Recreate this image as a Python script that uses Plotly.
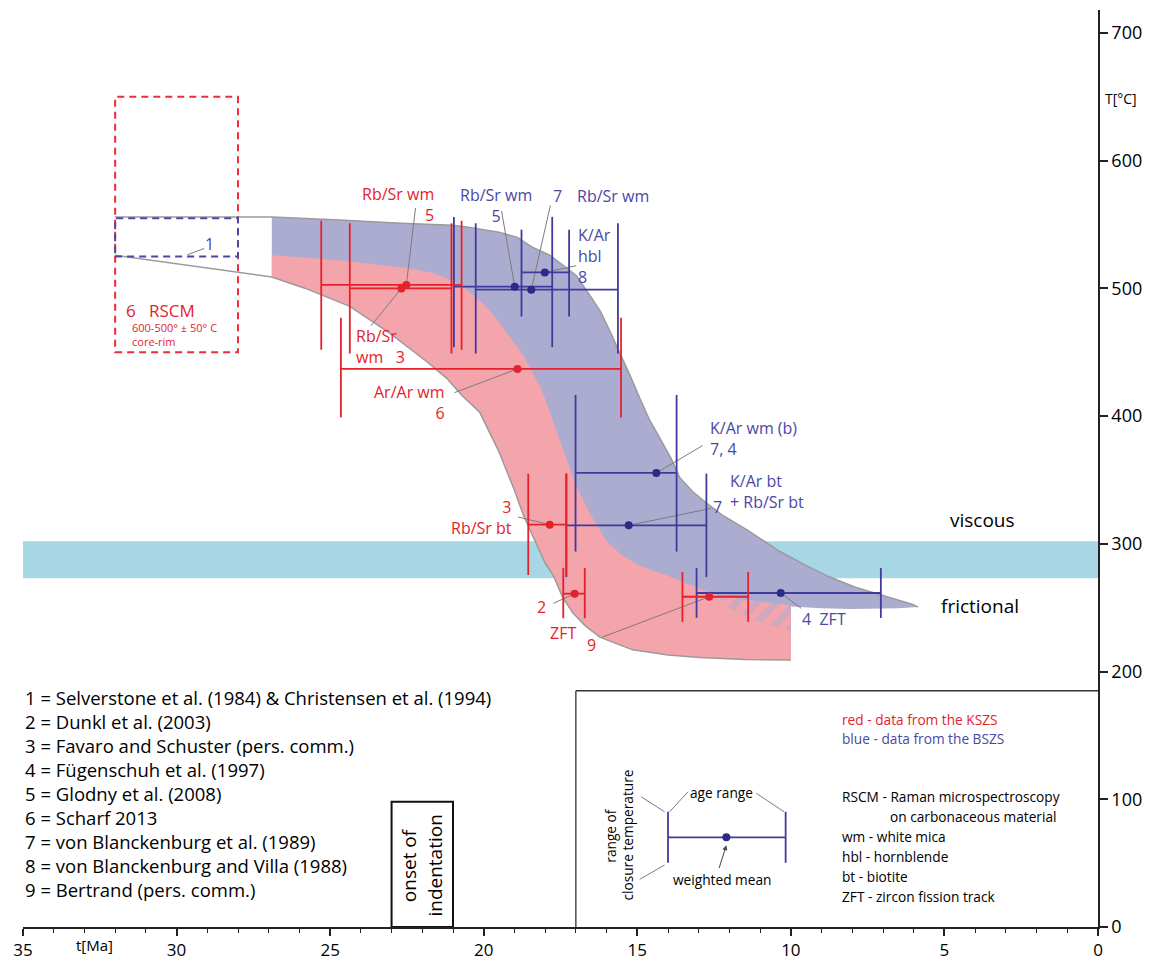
import plotly.graph_objects as go

# ---------------- cooling-path envelopes (age in Ma, temperature in °C) ----------------
blue_top_age = [32.0, 28.0, 26.9, 24.7, 22.7, 21.0, 20.5, 19.5, 18.9, 18.4,
                17.85, 17.3, 16.98, 16.5, 16.2, 15.9, 15.57, 15.2, 14.9, 14.6,
                14.27, 13.9, 13.62, 13.2, 12.75, 12.2, 11.43, 10.8, 10.36, 9.5,
                8.73, 7.9, 7.1, 6.5, 6.03, 5.86]
blue_top_T = [556, 556, 556, 553.5, 551, 549.5, 548, 544, 540, 532,
              526, 516, 510, 493, 482, 467, 450, 430, 413, 397,
              383, 367, 352, 341, 332, 322, 311, 301, 294, 283,
              274, 266, 260, 256, 252.5, 250.5]
blue_bot_age = [5.86, 6.5, 8.0, 9.0, 10.0]
blue_bot_T = [250.5, 249.5, 249.0, 249.5, 251]

red_top_age = [26.9, 24.7, 22.5, 21.65, 21.0, 20.56, 20.0, 19.48, 19.0, 18.7,
               18.1, 17.52, 16.98, 16.5, 16.0, 15.5, 15.0, 14.5, 14.0, 13.3,
               12.4, 12.0, 11.0, 10.0]
red_top_T = [526, 522, 516, 512, 506, 499, 488, 473, 457, 447,
             420, 381, 345, 322, 302, 291, 284, 279, 275, 268,
             259.5, 250, 239, 232]
red_bot_age = [32.0, 29.25, 26.9, 25.8, 24.36, 23.06, 21.87, 21.22, 20.7, 20.13,
               19.5, 19.0, 18.7, 18.4, 18.0, 17.75, 17.43, 17.1, 16.7, 16.22,
               15.6, 15.15, 14.0, 12.96, 11.5, 10.0]
red_bot_T = [526, 517, 509, 500, 486, 465, 443, 430, 416, 403,
             372, 342, 322, 306, 285, 276, 258, 246, 236, 227,
             221, 217, 213, 211, 209.5, 209]
hatch_age = [12.4, 11.5, 10.0, 10.0, 11.0, 12.0]
hatch_T = [259.5, 256, 252, 232, 239, 250]

# viscous / frictional transition band
bdt_age = [35, 0]
bdt_T = [273, 302]

# boxes
rscm_age = [32, 28]
rscm_T = [450, 650]
selv_age = [32, 28]
selv_T = [525, 555]
onset_age = [23.0, 21.0]
onset_T = 98
key_age = 17.0
key_T = 185

# ---------------- data crosses ----------------
red_age = [22.52, 22.68, 18.9, 17.85, 17.04, 12.66]
red_age_old = [25.29, 24.36, 24.65, 18.55, 17.41, 13.53]
red_age_young = [20.72, 21.05, 15.53, 17.31, 16.71, 11.39]
red_T = [502.7, 500.0, 437.0, 315.0, 261.0, 258.6]
red_T_low = [452, 449, 399, 275.6, 241.7, 239]
red_T_high = [553, 551, 477, 355, 281, 278]
red_lead_age = [22.22, 23.67, 20.95, 18.88, 17.73, 16.16]
red_lead_T = [563, 470.8, 418.4, 321.0, 253.4, 226.8]

blue_age = [18.99, 18.45, 18.01, 14.38, 15.28, 10.33]
blue_age_old = [20.97, 20.26, 18.77, 17.01, 17.31, 13.07]
blue_age_young = [17.77, 15.63, 17.22, 13.72, 12.75, 7.07]
blue_T = [501.4, 499.0, 512.5, 355.5, 314.5, 261.5]
blue_T_low = [454, 449, 478, 294, 274, 242]
blue_T_high = [556, 551, 546, 416.6, 355, 281]
blue_lead_age = [19.42, 17.83, 16.99, 12.87, 12.61, 9.66]
blue_lead_T = [560.8, 565, 517.8, 377, 327.7, 249.5]

# example cross in the key
ex_age = 12.1
ex_age_old = 14.0
ex_age_young = 10.17
ex_T = 70.2
ex_T_low = 50.3
ex_T_high = 90.2

references = [
    "1 = Selverstone et al. (1984) & Christensen et al. (1994)",
    "2 = Dunkl et al. (2003)",
    "3 = Favaro and Schuster (pers. comm.)",
    "4 = Fügenschuh et al. (1997)",
    "5 = Glodny et al. (2008)",
    "6 = Scharf 2013",
    "7 = von Blanckenburg et al. (1989)",
    "8 = von Blanckenburg and Villa (1988)",
    "9 = Bertrand (pers. comm.)",
]
abbreviations = [
    ("RSCM - Raman microspectroscopy", 0),
    ("on carbonaceous material", 1),
    ("wm - white mica", 0),
    ("hbl - hornblende", 0),
    ("bt - biotite", 0),
    ("ZFT - zircon fission track", 0),
]

# ---------------- styles ----------------
FONT = "Open Sans"
RED = "#e4222b"
BLUE = "#3f3b9d"
BLUE_PT = "#2c2987"
BLUE_TXT = "#4b47a4"
PINK = "#f4a4ab"
LAV = "#acabd0"
CYAN = "#a7d6e4"
EDGE = "#9b9b9b"
LEAD = "#7c7c7c"
NB = "\u00a0"

fig = go.Figure()

# cyan band
fig.add_trace(go.Scatter(x=[bdt_age[0], bdt_age[1], bdt_age[1], bdt_age[0]],
                         y=[bdt_T[0], bdt_T[0], bdt_T[1], bdt_T[1]],
                         fill="toself", fillcolor=CYAN, line=dict(width=0),
                         mode="lines", hoverinfo="skip"))

# blue envelope
bt_idx = [i for i, a in enumerate(blue_top_age) if a <= 26.9]
rb_idx = [i for i, a in enumerate(red_bot_age) if a <= 26.9]
bx = [blue_top_age[i] for i in bt_idx] + blue_bot_age[1:] + [red_bot_age[i] for i in reversed(rb_idx)]
by = [blue_top_T[i] for i in bt_idx] + blue_bot_T[1:] + [red_bot_T[i] for i in reversed(rb_idx)]
fig.add_trace(go.Scatter(x=bx, y=by, fill="toself", fillcolor=LAV, line=dict(width=0),
                         mode="lines", hoverinfo="skip"))

# red envelope
rx = red_top_age + [red_bot_age[i] for i in reversed(rb_idx)]
ry = red_top_T + [red_bot_T[i] for i in reversed(rb_idx)]
fig.add_trace(go.Scatter(x=rx, y=ry, fill="toself", fillcolor=PINK, line=dict(width=0),
                         mode="lines", hoverinfo="skip"))

# hatched overlap
fig.add_trace(go.Scatter(x=hatch_age, y=hatch_T, fill="toself", fillcolor=PINK,
                         fillpattern=dict(shape="/", bgcolor=PINK, fgcolor=LAV, size=14, solidity=0.5),
                         line=dict(width=0), mode="lines", hoverinfo="skip"))

# grey outlines
fig.add_trace(go.Scatter(x=blue_top_age, y=blue_top_T, mode="lines",
                         line=dict(color=EDGE, width=1.5), hoverinfo="skip"))
fig.add_trace(go.Scatter(x=red_bot_age, y=red_bot_T, mode="lines",
                         line=dict(color=EDGE, width=1.5), hoverinfo="skip"))


def cross(a_old, a_young, t, lo, hi):
    xs, ys = [], []
    for a0, a1, tm, l, h in zip(a_old, a_young, t, lo, hi):
        xs += [a0, a1, None, a0, a0, None, a1, a1, None]
        ys += [tm, tm, None, l, h, None, l, h, None]
    return xs, ys


def leaders(la, lt, a, t):
    xs, ys = [], []
    for x0, y0, x1, y1 in zip(la, lt, a, t):
        xs += [x0, x1, None]
        ys += [y0, y1, None]
    return xs, ys


# leader lines
lx, ly = leaders(blue_lead_age, blue_lead_T, blue_age, blue_T)
fig.add_trace(go.Scatter(x=lx, y=ly, mode="lines", line=dict(color=LEAD, width=1), hoverinfo="skip"))
lx, ly = leaders(red_lead_age, red_lead_T, red_age, red_T)
fig.add_trace(go.Scatter(x=lx, y=ly, mode="lines", line=dict(color=LEAD, width=1), hoverinfo="skip"))

# crosses
cx, cy = cross(blue_age_old, blue_age_young, blue_T, blue_T_low, blue_T_high)
fig.add_trace(go.Scatter(x=cx, y=cy, mode="lines", line=dict(color=BLUE, width=1.8), hoverinfo="skip"))
cx, cy = cross(red_age_old, red_age_young, red_T, red_T_low, red_T_high)
fig.add_trace(go.Scatter(x=cx, y=cy, mode="lines", line=dict(color=RED, width=1.8), hoverinfo="skip"))
fig.add_trace(go.Scatter(x=blue_age, y=blue_T, mode="markers",
                         marker=dict(color=BLUE_PT, size=8), hoverinfo="skip"))
fig.add_trace(go.Scatter(x=red_age, y=red_T, mode="markers",
                         marker=dict(color=RED, size=8), hoverinfo="skip"))

# example cross in key
cx, cy = cross([ex_age_old], [ex_age_young], [ex_T], [ex_T_low], [ex_T_high])
fig.add_trace(go.Scatter(x=cx, y=cy, mode="lines", line=dict(color=BLUE, width=1.8), hoverinfo="skip"))
fig.add_trace(go.Scatter(x=[ex_age], y=[ex_T], mode="markers",
                         marker=dict(color=BLUE_PT, size=8), hoverinfo="skip"))
key_leads_x = [13.95, 13.35, None, 10.22, 11.12, None, 14.11, 14.87, None, 14.11, 14.92]
key_leads_y = [90.2, 105.8, None, 90.2, 104.6, None, 90.2, 101.9, None, 48.5, 37.3]
fig.add_trace(go.Scatter(x=key_leads_x, y=key_leads_y, mode="lines",
                         line=dict(color=LEAD, width=1), hoverinfo="skip"))

# Selverstone "1" leader
fig.add_trace(go.Scatter(x=[29.65, 29.1], y=[526.3, 531.3], mode="lines",
                         line=dict(color=LEAD, width=1), hoverinfo="skip"))

shapes = [
    dict(type="rect", x0=rscm_age[0], x1=rscm_age[1], y0=rscm_T[0], y1=rscm_T[1],
         line=dict(color="#ee2d3a", width=2, dash="7px,5px")),
    dict(type="rect", x0=selv_age[0], x1=selv_age[1], y0=selv_T[0], y1=selv_T[1],
         line=dict(color=BLUE_TXT, width=2, dash="7px,5px")),
    dict(type="line", x0=key_age, x1=0, y0=key_T, y1=key_T, line=dict(color="#333", width=1.3)),
    dict(type="line", x0=key_age, x1=key_age, y0=0, y1=key_T, line=dict(color="#333", width=1.3)),
    dict(type="rect", x0=onset_age[0], x1=onset_age[1], y0=0, y1=onset_T,
         line=dict(color="#111", width=2)),
]

ann = []


def txt(s, x, y, color="black", size=16, xanchor="center", angle=0, align="center", **kw):
    d = dict(text=s, x=x, y=y, xref="x", yref="y", showarrow=False, xanchor=xanchor,
             yanchor="middle", textangle=angle, align=align,
             font=dict(family=FONT, size=size, color=color))
    d.update(kw)
    ann.append(d)


# red labels
txt("Rb/Sr wm<br>5", 21.54, 565.5, RED, xanchor="right", align="right")
txt("Rb/Sr<br>wm" + NB * 3 + "3", 24.21, 454.8, RED, xanchor="left", align="left")
txt("Ar/Ar wm<br>6", 21.18, 411, RED, xanchor="right", align="right")
txt("3<br>Rb/Sr bt", 19.0, 320.7, RED, xanchor="right", align="right")
txt("2", 18.13, 250.3, RED)
txt("ZFT", 17.43, 230, RED)
txt("9", 16.49, 220.6, RED)
txt("6", 31.49, 482.6, RED, size=17)
txt("RSCM", 30.16, 482.6, RED, size=17)
txt("600-500° ± 50° C<br>core-rim", 31.51, 464.2, RED, size=11, xanchor="left", align="left")

# blue labels
txt("Rb/Sr wm<br>5", 19.59, 564.7, BLUE_TXT)
txt("7", 17.6, 572.5, BLUE_TXT)
txt("Rb/Sr wm", 15.8, 572.5, BLUE_TXT)
txt("K/Ar<br>hbl<br>8", 17.01, 525.6, BLUE_TXT, xanchor="left", align="left")
txt("K/Ar wm (b)<br>7, 4", 12.71, 382.4, BLUE_TXT, xanchor="left", align="left")
txt("K/Ar bt<br>+ Rb/Sr bt", 12.06, 341, BLUE_TXT, xanchor="left", align="left")
txt("7", 12.38, 328.5, BLUE_TXT)
txt("4" + NB * 2 + "ZFT", 9.71, 241, BLUE_TXT, xanchor="left")
txt("1", 28.94, 535, BLUE_TXT)

# black labels
txt("viscous", 3.75, 318.3, size=19)
txt("frictional", 3.85, 251, size=19)
txt("onset of", 22.43, 48.5, angle=-90, size=19)
txt("indentation", 21.57, 48.5, angle=-90, size=19)

txt("<br>".join(references), 35.0, 104.8, size=18.5, xanchor="left", align="left")

# key box texts
KS = 13.7
txt("red - data from the KSZS", 8.41, 162.7, RED, size=KS, xanchor="left")
txt("blue - data from the BSZS", 8.41, 147.8, BLUE_TXT, size=KS, xanchor="left")
for i, (s, ind) in enumerate(abbreviations):
    txt(s, 8.41 - 1.57 * ind, 102.5, size=KS, xanchor="left", yshift=-20 * i)
txt("age range", 12.25, 105.5, size=KS)
txt("weighted mean", 12.25, 37.5, size=KS)
txt("range of", 15.9, 72, size=KS, angle=-90)
txt("closure temperature", 15.35, 72, size=KS, angle=-90)
ann.append(dict(x=12.1, y=64, ax=12.35, ay=45, xref="x", yref="y", axref="x", ayref="y",
                text="", showarrow=True, arrowhead=2, arrowsize=1, arrowwidth=1, arrowcolor="#444"))

# axis titles
txt("T[°C]", 0, 649, size=14, xanchor="left", xshift=5)
txt("t[Ma]", 32.68, 0, size=15, yshift=-18)

fig.update_layout(
    width=1145, height=954,
    margin=dict(l=15, r=55, t=2, b=35),
    plot_bgcolor="white", paper_bgcolor="white",
    showlegend=False,
    shapes=shapes, annotations=ann,
    font=dict(family=FONT, size=17, color="black"),
    xaxis=dict(range=[35, 0], tick0=0, dtick=5, ticks="outside", ticklen=7, tickwidth=1.5,
               tickcolor="#222", showline=True, linecolor="#222", linewidth=1.5,
               showgrid=False, zeroline=False, tickfont=dict(family=FONT, size=17, color="black"),
               minor=dict(tick0=0, dtick=1, ticks="outside", ticklen=4, tickwidth=1.2, tickcolor="#222")),
    yaxis=dict(range=[0, 718], side="right", tick0=0, dtick=100, ticks="outside", ticklen=8,
               tickwidth=1.5, tickcolor="#222", showline=True, linecolor="#222", linewidth=1.5,
               showgrid=False, zeroline=False, tickfont=dict(family=FONT, size=18, color="black")),
)

fig.write_html("out.html")
